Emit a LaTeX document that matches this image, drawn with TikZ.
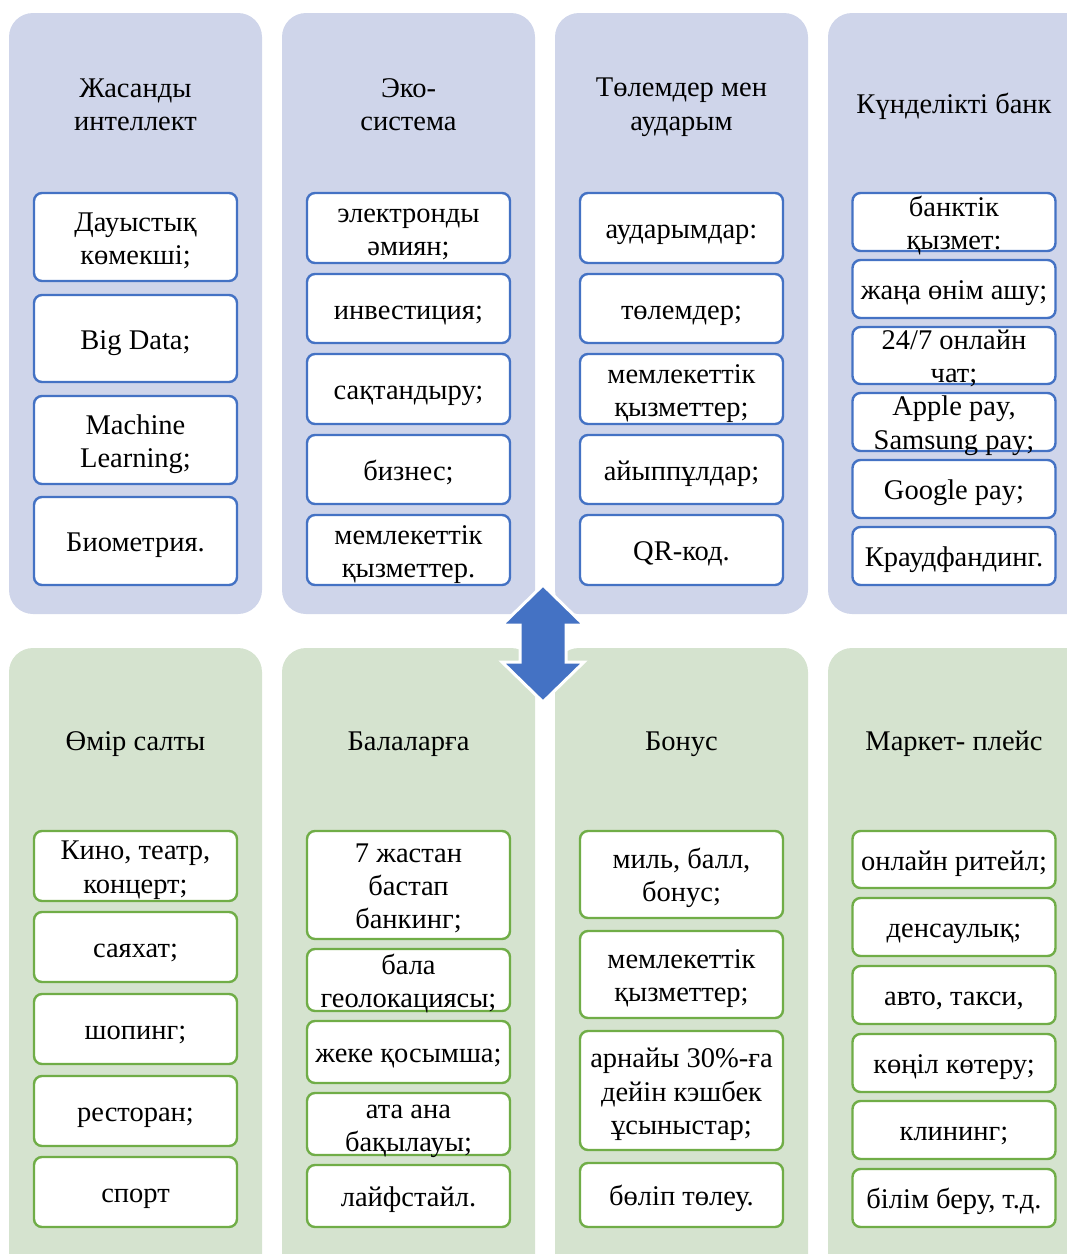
\documentclass[tikz,border=0pt]{standalone}
\usepackage{fontspec}
\setmainfont{Liberation Serif}
\definecolor{lav}{HTML}{CFD5EA}
\definecolor{lgreen}{HTML}{D5E3CF}
\definecolor{bblue}{HTML}{4472C4}
\definecolor{bgreen}{HTML}{70AD47}
\newcommand\ctext[1]{\setbox\strutbox\hbox{\rule[-5.7pt]{0pt}{33pt}}\begin{tabular}{@{}c@{}}#1\end{tabular}}
\tikzset{
  panelA/.style={fill=lav, draw=none, rounded corners=24pt},
  panelB/.style={fill=lgreen, draw=none, rounded corners=24pt},
  cellA/.style={draw=bblue, fill=white, line width=2.4pt, rounded corners=8pt, minimum width=203pt, inner sep=0pt},
  cellB/.style={cellA, draw=bgreen},
  celltext/.style={inner sep=0pt, font=\fontsize{28.5}{33}\selectfont},
  head/.style={celltext},
  bigarrow/.style={fill=bblue, draw=white, line width=3pt, line join=miter}
}
\newcommand\mkcell[6]{\node[#1, minimum height={(#5-#4)*1pt}] (#2) at ({#3},{(#4+#5)/2}) {};
  \node[celltext] (#2t) at (#2.center) {\ctext{#6}};}
\begin{document}
\begin{tikzpicture}[x=1pt,y=-1pt]
\useasboundingbox (0,0) rectangle (1067,1254);
\clip (0,0) rectangle (1067,1254);
% panels
\fill[panelA] (9,13) rectangle (262,614);
\fill[panelA] (282,13) rectangle (535,614);
\fill[panelA] (555,13) rectangle (808,614);
\fill[panelA] (828,13) rectangle (1100,614);
\fill[panelB] (9,648) rectangle (262,1290);
\fill[panelB] (282,648) rectangle (535,1290);
\fill[panelB] (555,648) rectangle (808,1290);
\fill[panelB] (828,648) rectangle (1100,1290);
% headers top
\node[head] (h1) at (135.5,103) {\ctext{Жасанды\\интеллект}};
\node[head] (h2) at (408.5,103) {\ctext{Эко-\\система}};
\node[head] (h3) at (681.5,103) {\ctext{Төлемдер мен\\аударым}};
\node[head] (h4) at (954,103) {\ctext{Күнделікті банк}};
% headers bottom
\node[head] (g1) at (135.5,740) {\ctext{Өмір салты}};
\node[head] (g2) at (408.5,740) {\ctext{Балаларға}};
\node[head] (g3) at (681.5,740) {\ctext{Бонус}};
\node[head] (g4) at (954,740) {\ctext{Маркет- плейс}};
% top col 1
\mkcell{cellA}{a1}{135.5}{193}{281}{Дауыстық\\көмекші;}
\mkcell{cellA}{a2}{135.5}{295}{382}{Big Data;}
\mkcell{cellA}{a3}{135.5}{396}{484}{Machine\\Learning;}
\mkcell{cellA}{a4}{135.5}{497}{585}{Биометрия.}
% top col 2
\mkcell{cellA}{b1}{408.5}{193}{263}{электронды\\әмиян;}
\mkcell{cellA}{b2}{408.5}{274}{343}{инвестиция;}
\mkcell{cellA}{b3}{408.5}{354}{424}{сақтандыру;}
\mkcell{cellA}{b4}{408.5}{435}{504}{бизнес;}
\mkcell{cellA}{b5}{408.5}{515}{585}{мемлекеттік\\қызметтер.}
% top col 3
\mkcell{cellA}{c1}{681.5}{193}{263}{аударымдар:}
\mkcell{cellA}{c2}{681.5}{274}{343}{төлемдер;}
\mkcell{cellA}{c3}{681.5}{354}{424}{мемлекеттік\\қызметтер;}
\mkcell{cellA}{c4}{681.5}{435}{504}{айыппұлдар;}
\mkcell{cellA}{c5}{681.5}{515}{585}{QR-код.}
% top col 4
\mkcell{cellA}{d1}{954}{193}{251}{банктік\\қызмет:}
\mkcell{cellA}{d2}{954}{260}{318}{жаңа өнім ашу;}
\mkcell{cellA}{d3}{954}{327}{384}{24/7 онлайн\\чат;}
\mkcell{cellA}{d4}{954}{393}{451}{Apple pay,\\Samsung pay;}
\mkcell{cellA}{d5}{954}{460}{518}{Google pay;}
\mkcell{cellA}{d6}{954}{527}{585}{Краудфандинг.}
% bottom col 1
\mkcell{cellB}{e1}{135.5}{831}{901}{Кино, театр,\\концерт;}
\mkcell{cellB}{e2}{135.5}{912}{982}{саяхат;}
\mkcell{cellB}{e3}{135.5}{994}{1064}{шопинг;}
\mkcell{cellB}{e4}{135.5}{1076}{1146}{ресторан;}
\mkcell{cellB}{e5}{135.5}{1157}{1227}{спорт}
% bottom col 2
\mkcell{cellB}{f1}{408.5}{831}{939}{7 жастан\\бастап\\банкинг;}
\mkcell{cellB}{f2}{408.5}{949}{1011}{бала\\геолокациясы;}
\mkcell{cellB}{f3}{408.5}{1021}{1083}{жеке қосымша;}
\mkcell{cellB}{f4}{408.5}{1093}{1155}{ата ана\\бақылауы;}
\mkcell{cellB}{f5}{408.5}{1165}{1227}{лайфстайл.}
% bottom col 3
\mkcell{cellB}{k1}{681.5}{831}{918}{миль, балл,\\бонус;}
\mkcell{cellB}{k2}{681.5}{931}{1018}{мемлекеттік\\қызметтер;}
\mkcell{cellB}{k3}{681.5}{1031}{1150}{арнайы 30\%-ға\\дейін кэшбек\\ұсыныстар;}
\mkcell{cellB}{k4}{681.5}{1163}{1227}{бөліп төлеу.}
% bottom col 4
\mkcell{cellB}{m1}{954}{831}{888}{онлайн ритейл;}
\mkcell{cellB}{m2}{954}{898}{956}{денсаулық;}
\mkcell{cellB}{m3}{954}{966}{1024}{авто, такси,}
\mkcell{cellB}{m4}{954}{1034}{1092}{көңіл көтеру;}
\mkcell{cellB}{m5}{954}{1101}{1159}{клининг;}
\mkcell{cellB}{m6}{954}{1169}{1227}{білім беру, т.д.}
% double arrow
\coordinate (tip1) at (543,585);
\coordinate (tip2) at (543,702);
\draw[bigarrow] (tip1) -- (584,625) -- (566,625) -- (566,662) -- (584,662) -- (tip2) -- (502,662) -- (520,662) -- (520,625) -- (502,625) -- cycle;
\end{tikzpicture}
\end{document}
